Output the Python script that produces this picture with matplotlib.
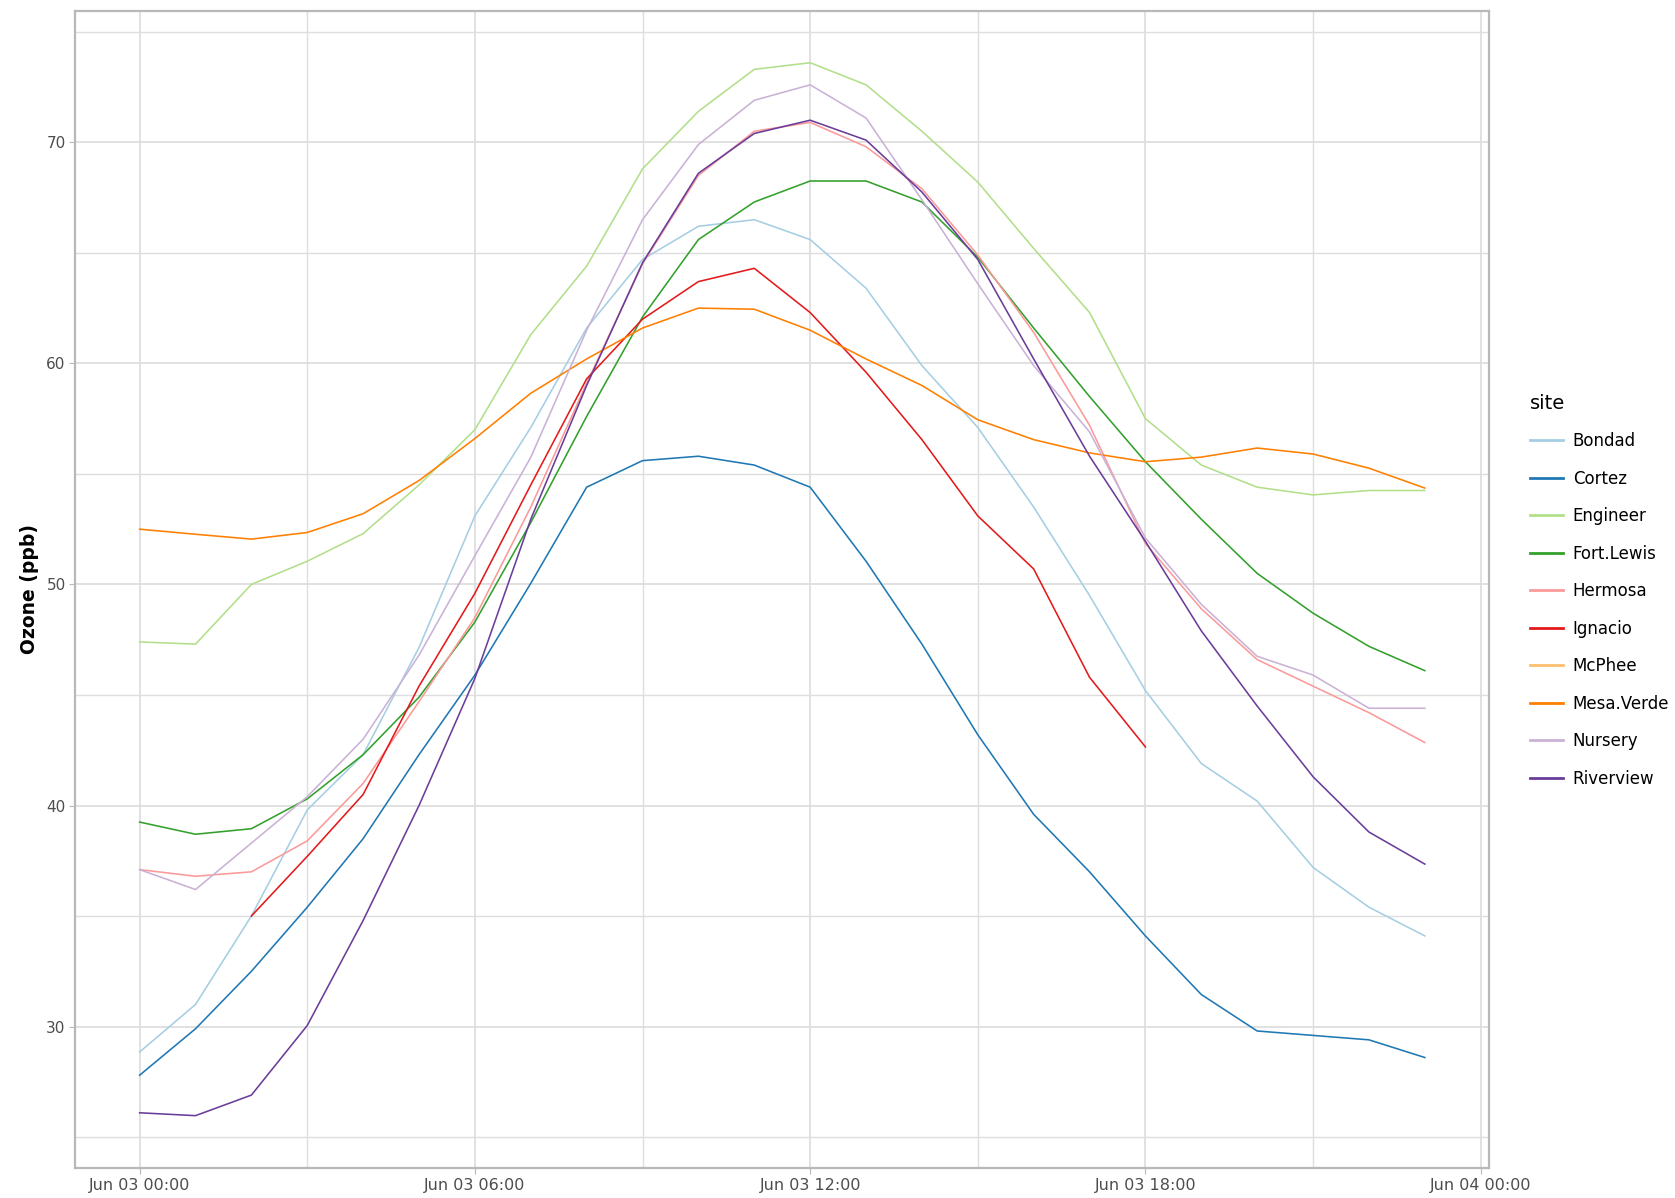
import numpy as np
import pandas as pd
import matplotlib
matplotlib.use("Agg")
import matplotlib.pyplot as plt
import matplotlib.dates as mdates

# hourly ozone (ppb) by monitoring site, Jun 03
hours = pd.date_range("2021-06-03 00:00", periods=24, freq="h")
sites = ["Bondad", "Cortez", "Engineer", "Fort.Lewis", "Hermosa",
         "Ignacio", "McPhee", "Mesa.Verde", "Nursery", "Riverview"]

bondad = [28.85, 31.0, 35.0, 39.8, 42.3, 47.15, 53.1, 57.1, 61.6, 64.7, 66.2, 66.5,
          65.6, 63.4, 59.9, 57.1, 53.5, 49.5, 45.2, 41.9, 40.2, 37.2, 35.4, 34.1]
cortez = [27.8, 29.9, 32.5, 35.4, 38.5, 42.3, 45.9, 50.05, 54.4, 55.6, 55.8, 55.4,
          54.4, 51.05, 47.3, 43.2, 39.6, 37.0, 34.1, 31.45, 29.8, 29.6, 29.4, 28.6]
engineer = [47.4, 47.3, 50.0, 51.05, 52.3, 54.5, 57.0, 61.3, 64.4, 68.8, 71.4, 73.3,
            73.6, 72.6, 70.5, 68.2, 65.2, 62.3, 57.5, 55.4, 54.4, 54.05, 54.25, 54.25]
fort_lewis = [39.25, 38.7, 38.95, 40.3, 42.3, 44.9, 48.3, 52.8, 57.6, 62.1, 65.6, 67.3,
              68.25, 68.25, 67.3, 64.8, 61.6, 58.5, 55.55, 52.95, 50.5, 48.7, 47.2, 46.1]
hermosa = [37.1, 36.8, 37.0, 38.4, 41.0, 44.7, 48.5, 53.5, 59.1, 64.5, 68.5, 70.5,
           70.9, 69.8, 67.9, 64.9, 61.4, 57.2, 51.85, 48.9, 46.6, 45.4, 44.2, 42.85]
ignacio = [np.nan, np.nan, 35.0, 37.7, 40.5, 45.4, 49.6, 54.5, 59.3, 62.0, 63.7, 64.3,
           62.3, 59.6, 56.55, 53.1, 50.7, 45.8, 42.65, np.nan, np.nan, np.nan, np.nan, np.nan]
mcphee = [np.nan] * 24
mesa_verde = [52.5, 52.27, 52.05, 52.35, 53.2, 54.7, 56.6, 58.65, 60.2, 61.6, 62.5, 62.45,
              61.5, 60.2, 59.0, 57.45, 56.55, 55.95, 55.55, 55.76, 56.17, 55.9, 55.26, 54.36]
nursery = [37.1, 36.2, 38.3, 40.4, 43.0, 46.8, 51.3, 55.75, 61.5, 66.5, 69.9, 71.9,
           72.6, 71.1, 67.4, 63.6, 59.9, 56.9, 52.1, 49.1, 46.75, 45.9, 44.4, 44.4]
riverview = [26.1, 25.97, 26.9, 30.05, 34.8, 40.0, 45.75, 52.95, 59.0, 64.55, 68.6, 70.4,
             71.0, 70.1, 67.75, 64.7, 60.2, 55.8, 51.95, 47.9, 44.5, 41.3, 38.8, 37.35]

series = [bondad, cortez, engineer, fort_lewis, hermosa,
          ignacio, mcphee, mesa_verde, nursery, riverview]
colors = plt.get_cmap("Paired").colors  # ColorBrewer Paired, same order as sites

fig = plt.figure(figsize=(16.75, 11.98), dpi=100)
ax = fig.add_axes([0.045, 0.025, 0.844, 0.966])

grid_c = "#DEDEDE"
for i, (name, vals) in enumerate(zip(sites, series)):
    ax.plot(hours, vals, color=colors[i], lw=1.15, label=name)

ax.xaxis.set_major_locator(mdates.HourLocator(byhour=[0, 6, 12, 18]))
ax.xaxis.set_minor_locator(mdates.HourLocator(byhour=[3, 9, 15, 21]))
ax.xaxis.set_major_formatter(mdates.DateFormatter("%b %d %H:%M"))
ax.set_yticks([30, 40, 50, 60, 70])
ax.set_yticks([25, 35, 45, 55, 65, 75], minor=True)

pad = pd.Timedelta(hours=1.15)
ax.set_xlim(hours[0] - pad, hours[-1] + pad)
ax.set_ylim(23.6, 75.95)

ax.grid(which="major", color=grid_c, lw=1.3)
ax.grid(which="minor", color=grid_c, lw=1.0)
ax.set_axisbelow(True)
for s in ax.spines.values():
    s.set_color("#B8B8B8")
    s.set_linewidth(1.6)

ax.tick_params(which="major", length=4, color="#B8B8B8", labelsize=11.5,
               labelcolor="#4D4D4D", pad=3)
ax.tick_params(axis="y", which="major", labelsize=11)
ax.tick_params(which="minor", length=0)
ax.set_ylabel("Ozone (ppb)", fontsize=13.5, fontweight="bold", labelpad=5)

leg = ax.legend(loc="upper left", bbox_to_anchor=(1.018, 0.682), frameon=False,
                title="site", fontsize=12, title_fontsize=14, handlelength=2.0,
                labelspacing=1.17, handletextpad=0.6, alignment="left")
for line in leg.get_lines():
    line.set_linewidth(2)

fig.savefig("out.png", dpi=100)
